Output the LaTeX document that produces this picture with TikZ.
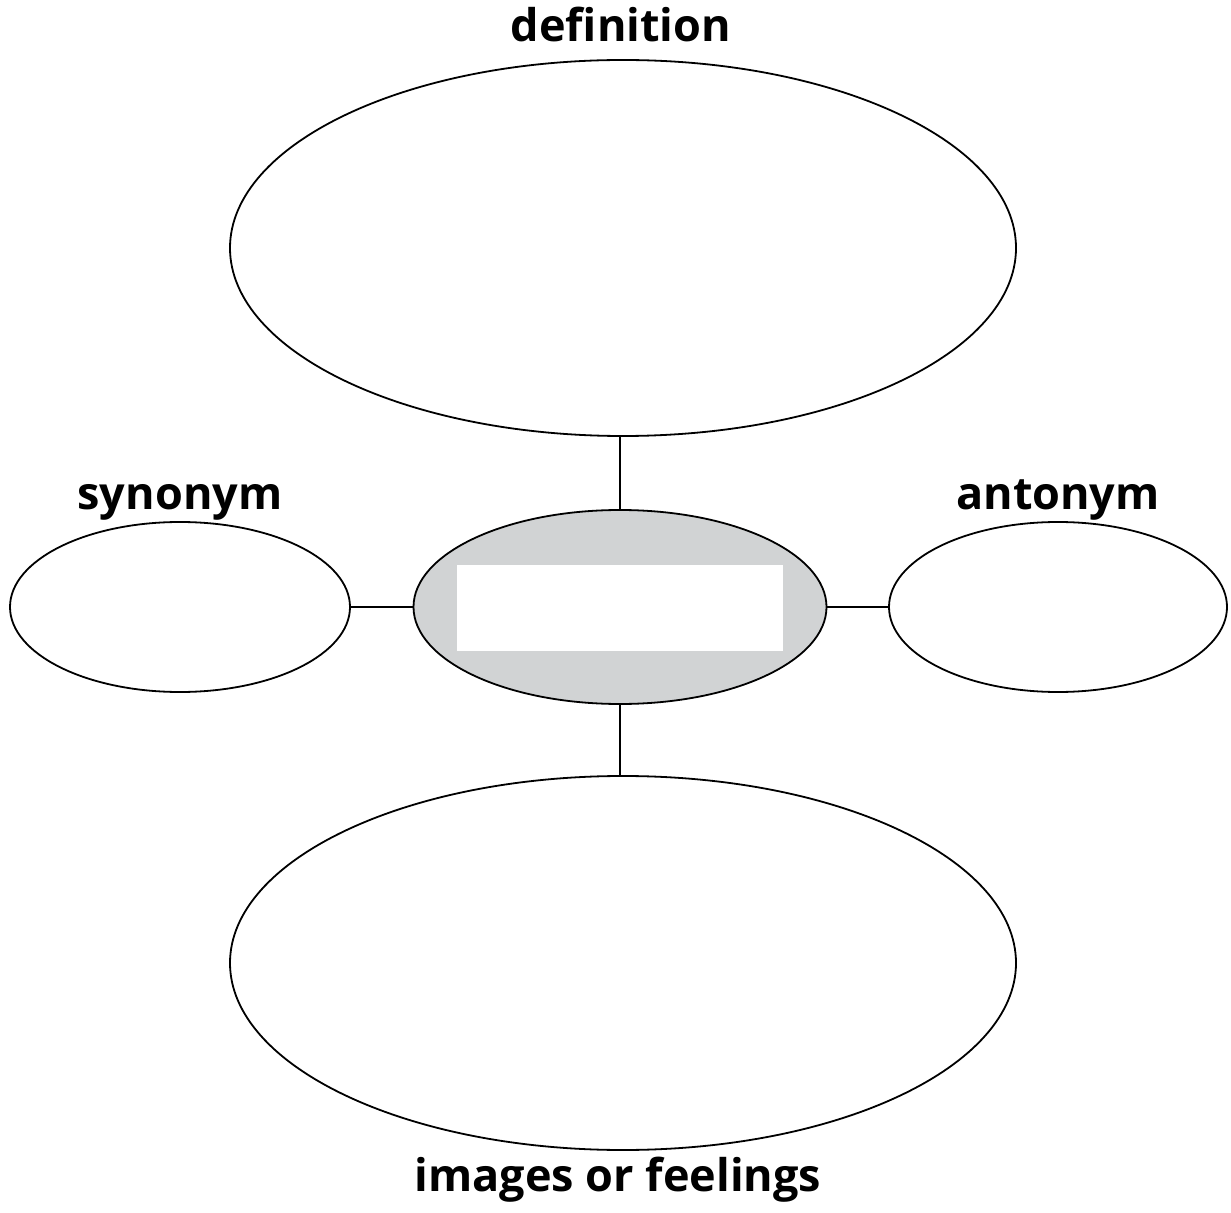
\documentclass[tikz,border=0pt]{standalone}
\usepackage{fontspec}
\setmainfont{Open Sans}
\usetikzlibrary{shapes.geometric}
\definecolor{centergray}{HTML}{D1D3D4}
\begin{document}
\begin{tikzpicture}[x=0.5pt,y=-0.5pt,
  bubble/.style={draw=black,ellipse,line width=0.9pt,inner sep=0pt},
  label/.style={font=\fontsize{22.5}{27}\selectfont\bfseries,anchor=base,inner sep=0pt},
  link/.style={line width=0.9pt,draw=black}]
\useasboundingbox (0,0) rectangle (1231,1213);
\node[bubble,minimum width=393pt,minimum height=188pt] (def) at (623,248) {};
\node[bubble,minimum width=393pt,minimum height=187pt] (img) at (623,963) {};
\node[bubble,minimum width=170pt,minimum height=85pt] (syn) at (180,607) {};
\node[bubble,minimum width=169pt,minimum height=85pt] (ant) at (1058,607) {};
\node[bubble,fill=centergray,minimum width=206.5pt,minimum height=97pt] (ctr) at (620,607) {};
\node[fill=white,inner sep=0pt,minimum width=163pt,minimum height=43pt] (box) at (620,608) {};
\draw[link] (ctr.north |- def.south) -- (ctr.north);
\draw[link] (ctr.south) -- (ctr.south |- img.north);
\draw[link] (syn.east) -- (ctr.west);
\draw[link] (ctr.east) -- (ant.west);
\node[label] (tdef) at (621,42) {definition};
\node[label] (tsyn) at (180,510) {synonym};
\node[label] (tant) at (1058,510) {antonym};
\node[label] (timg) at (618,1191) {images or feelings};
\end{tikzpicture}
\end{document}
